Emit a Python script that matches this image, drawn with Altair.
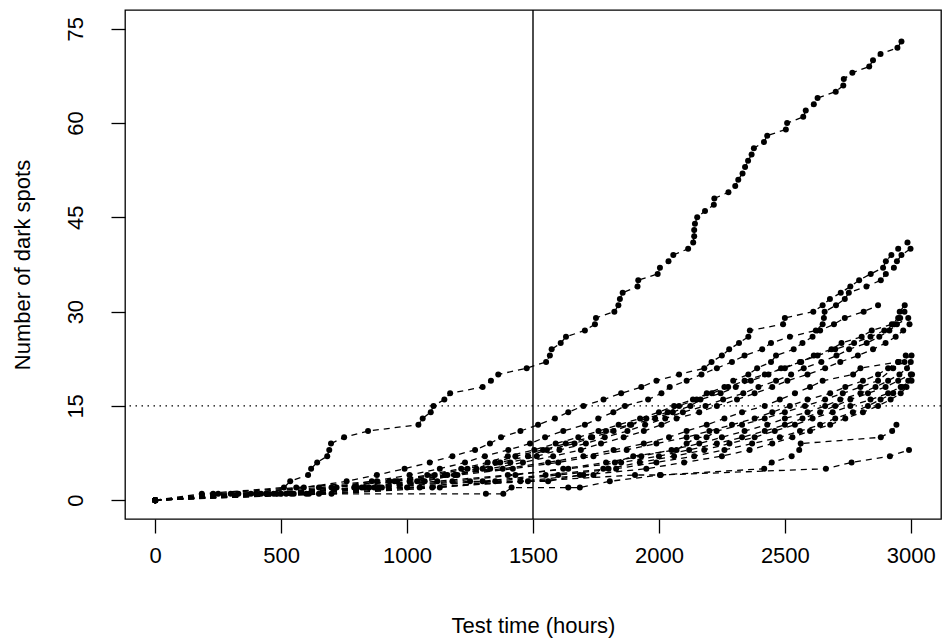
import altair as alt
import pandas as pd

# ---- data: inspection time (hours) and cumulative number of dark spots, per unit ----
u1_time = [0, 185, 511, 536, 607, 619, 643, 683, 691, 698, 750, 845, 1045, 1062, 1094, 1105, 1148, 1171,
           1300, 1333, 1362, 1475, 1552, 1567, 1574, 1610, 1631, 1706, 1746, 1750, 1823, 1839, 1845, 1856,
           1915, 1918, 1995, 2004, 2038, 2057, 2116, 2136, 2140, 2140, 2143, 2152, 2183, 2218, 2220, 2276,
           2303, 2315, 2332, 2342, 2354, 2368, 2377, 2417, 2430, 2504, 2509, 2573, 2583, 2615, 2630, 2702,
           2732, 2734, 2768, 2835, 2850, 2880, 2947, 2963]
u1_count = [0, 1, 2, 3, 4, 5, 6, 7, 8, 9, 10, 11, 12, 13, 14, 15, 16, 17, 18, 19, 20, 21, 22, 23, 24, 25,
            26, 27, 28, 29, 30, 31, 32, 33, 34, 35, 36, 37, 38, 39, 40, 41, 42, 43, 44, 45, 46, 47, 48, 49,
            50, 51, 52, 53, 54, 55, 56, 57, 58, 59, 60, 61, 62, 63, 64, 65, 66, 67, 68, 69, 70, 71, 72, 73]

u2_time = [0, 330, 590, 760, 880, 990, 1090, 1180, 1270, 1329, 1373, 1450, 1520, 1587, 1640, 1700, 1780,
           1850, 1930, 1990, 2080, 2180, 2209, 2250, 2279, 2318, 2355, 2361, 2493, 2500, 2613, 2650, 2679,
           2722, 2760, 2795, 2841, 2890, 2901, 2923, 2950, 2987]
u2_count = [0, 1, 2, 3, 4, 5, 6, 7, 8, 9, 10, 11, 12, 13, 14, 15, 16, 17, 18, 19, 20, 21, 22, 23, 24, 25,
            26, 27, 28, 29, 30, 31, 32, 33, 34, 35, 36, 37, 38, 39, 40, 41]

u3_time = [0, 470, 700, 860, 1010, 1130, 1230, 1309, 1402, 1488, 1548, 1620, 1706, 1759, 1819, 1865, 1957,
           2010, 2043, 2110, 2169, 2230, 2290, 2340, 2410, 2445, 2520, 2623, 2650, 2655, 2658, 2703, 2738,
           2754, 2824, 2881, 2901, 2933, 2945, 2963, 2999]
u3_count = [0, 1, 2, 3, 4, 5, 6, 7, 8, 9, 10, 11, 12, 13, 14, 15, 16, 17, 18, 19, 20, 21, 22, 23, 24, 25,
            26, 27, 28, 29, 30, 31, 32, 33, 34, 35, 36, 37, 38, 39, 40]

u4_time = [0, 540, 790, 960, 1110, 1240, 1350, 1430, 1540, 1630, 1730, 1790, 1885, 1950, 2035, 2080, 2150,
           2190, 2260, 2295, 2355, 2390, 2445, 2465, 2535, 2570, 2610, 2640, 2695, 2738, 2813, 2870]
u4_count = [0, 1, 2, 3, 4, 5, 6, 7, 8, 9, 10, 11, 12, 13, 14, 15, 16, 17, 18, 19, 20, 21, 22, 23, 24, 25,
            26, 27, 28, 29, 30, 31]

u5_time = [0, 610, 890, 1070, 1190, 1300, 1370, 1480, 1555, 1665, 1735, 1820, 1890, 1985, 2055, 2125, 2165,
           2245, 2305, 2365, 2435, 2485, 2565, 2615, 2685, 2725, 2805, 2845, 2925, 2950, 2956, 2976]
u5_count = [0, 1, 2, 3, 4, 5, 6, 7, 8, 9, 10, 11, 12, 13, 14, 15, 16, 17, 18, 19, 20, 21, 22, 23, 24, 25,
            26, 27, 28, 29, 30, 31]

u6_time = [0, 440, 830, 1010, 1160, 1275, 1410, 1515, 1605, 1710, 1785, 1875, 1945, 2025, 2095, 2185, 2255,
           2335, 2395, 2465, 2525, 2575, 2645, 2705, 2755, 2825, 2875, 2915, 2945, 2990]
u6_count = [0, 1, 2, 3, 4, 5, 6, 7, 8, 9, 10, 11, 12, 13, 14, 15, 16, 17, 18, 19, 20, 21, 22, 23, 24, 25,
            26, 27, 28, 29]

u7_time = [0, 230, 560, 880, 1150, 1380, 1560, 1700, 1820, 1940, 2040, 2110, 2190, 2260, 2330, 2420, 2480,
           2540, 2600, 2650, 2771, 2800, 2950, 3003]
u7_count = [0, 1, 2, 3, 4, 5, 6, 7, 8, 9, 10, 11, 12, 13, 14, 15, 16, 17, 18, 19, 20, 21, 22, 23]

u8_time = [0, 300, 650, 950, 1200, 1420, 1600, 1740, 1872, 1990, 2110, 2200, 2290, 2380, 2450, 2520, 2590,
           2680, 2740, 2810, 2870, 2910, 2950, 2980]
u8_count = [0, 1, 2, 3, 4, 5, 6, 7, 8, 9, 10, 11, 12, 13, 14, 15, 16, 17, 18, 19, 20, 21, 22, 23]

u9_time = [0, 480, 900, 1250, 1560, 1686, 1740, 1779, 1825, 1898, 2070, 2110, 2150, 2189, 2229, 2330, 2420,
           2500, 2580, 2660, 2730, 2800, 2870, 2930, 2975]
u9_count = [0, 1, 2, 3, 3, 4, 4, 5, 6, 7, 8, 9, 10, 10, 11, 12, 13, 14, 15, 16, 17, 18, 19, 21, 22]

u10_time = [0, 400, 820, 1120, 1400, 1640, 1850, 2000, 2120, 2230, 2330, 2420, 2500, 2570, 2640, 2700, 2760,
            2830, 2900, 2950, 3000]
u10_count = [0, 1, 2, 3, 4, 5, 6, 7, 8, 9, 10, 11, 12, 13, 14, 15, 16, 17, 18, 19, 20]

u11_time = [0, 550, 1000, 1300, 1550, 1800, 1924, 2060, 2180, 2280, 2380, 2460, 2540, 2610, 2690, 2760, 2840,
            2910, 2960, 3003]
u11_count = [0, 1, 2, 3, 4, 5, 6, 7, 8, 9, 10, 11, 12, 13, 14, 15, 16, 17, 18, 19]

u12_time = [0, 650, 1050, 1450, 1700, 1950, 2100, 2250, 2360, 2450, 2530, 2600, 2680, 2740, 2810, 2870, 2920,
            2960, 2983]
u12_count = [0, 1, 2, 3, 4, 5, 6, 7, 8, 9, 10, 11, 12, 13, 14, 15, 16, 17, 18]

u13_time = [0, 250, 520, 800, 1100, 1480, 1905, 2004, 2418, 2448, 2527, 2557, 2563, 2881, 2926, 2943]
u13_count = [0, 1, 1, 2, 2, 3, 4, 4, 5, 6, 7, 8, 9, 10, 11, 12]

u14_time = [0, 600, 1313, 1382, 1415, 1640, 1686, 1805, 2007, 2663, 2765, 2917, 2993]
u14_count = [0, 1, 1, 1, 2, 2, 2, 3, 4, 5, 6, 7, 8]

u15_time = [0, 380, 720, 930, 1080, 1215, 1320, 1400, 1505, 1590, 1680, 1760, 1840, 1925, 2000, 2060, 2135,
            2210, 2275, 2340, 2420, 2500, 2560, 2630, 2700, 2775, 2840, 2895, 2935, 2958, 2975]
u15_count = [0, 1, 2, 3, 4, 5, 6, 7, 8, 9, 10, 11, 12, 13, 14, 15, 16, 17, 18, 19, 20, 21, 22, 23, 24, 25,
             26, 27, 28, 29, 30]

u16_time = [0, 500, 850, 1040, 1190, 1330, 1460, 1580, 1690, 1770, 1860, 1940, 2010, 2070, 2160, 2230, 2310,
            2380, 2450, 2510, 2590, 2660, 2720, 2790, 2850, 2900, 2940, 2970, 2995]
u16_count = [0, 1, 2, 3, 4, 5, 6, 7, 8, 9, 10, 11, 12, 13, 14, 15, 16, 17, 18, 19, 20, 21, 22, 23, 24, 25,
             26, 27, 28]

u17_time = [0, 420, 870, 1180, 1430, 1620, 1790, 1930, 2050, 2160, 2250, 2340, 2430, 2500, 2590, 2660, 2720,
            2800, 2860, 2910, 2955, 2985, 3000]
u17_count = [0, 1, 2, 3, 4, 5, 6, 7, 8, 9, 10, 11, 12, 13, 14, 15, 16, 17, 18, 19, 20, 21, 22]

u18_time = [0, 700, 1130, 1350, 1600, 1830, 1990, 2140, 2260, 2370, 2480, 2560, 2640, 2700, 2770, 2830, 2880,
            2930, 2965, 2990, 3005]
u18_count = [0, 1, 2, 3, 4, 5, 6, 7, 8, 9, 10, 11, 12, 13, 14, 15, 16, 17, 18, 19, 20]

x_ticks = [0, 500, 1000, 1500, 2000, 2500, 3000]
y_ticks = [0, 15, 30, 45, 60, 75]
ref_time = [1500]
ref_spots = [15]

units = [
    ("1", u1_time, u1_count), ("2", u2_time, u2_count), ("3", u3_time, u3_count),
    ("4", u4_time, u4_count), ("5", u5_time, u5_count), ("6", u6_time, u6_count),
    ("7", u7_time, u7_count), ("8", u8_time, u8_count), ("9", u9_time, u9_count),
    ("10", u10_time, u10_count), ("11", u11_time, u11_count), ("12", u12_time, u12_count),
    ("13", u13_time, u13_count), ("14", u14_time, u14_count), ("15", u15_time, u15_count),
    ("16", u16_time, u16_count), ("17", u17_time, u17_count), ("18", u18_time, u18_count),
]
rows = []
for name, ts, cs in units:
    for i, (t, c) in enumerate(zip(ts, cs)):
        rows.append({"unit": name, "time": t, "spots": c, "seq": i})
df = pd.DataFrame(rows)

FONT = "Liberation Sans"
FS = 22

xscale = alt.Scale(domain=[-120, 3120], nice=False, zero=False)
yscale = alt.Scale(domain=[-3, 78], nice=False, zero=False)

xaxis = alt.Axis(values=x_ticks, format="d", title="Test time (hours)", grid=False, domain=False,
                 tickSize=14, tickColor="black", tickWidth=1.3,
                 labelFont=FONT, labelFontSize=FS, labelColor="black", labelPadding=12,
                 labelFlush=False, labelOverlap=False,
                 titleFont=FONT, titleFontSize=FS, titleFontWeight="normal", titleColor="black",
                 titleY=106, titleBaseline="middle")
yaxis = alt.Axis(values=y_ticks, format="d", title="Number of dark spots", grid=False, domain=False,
                 tickSize=14, tickColor="black", tickWidth=1.3,
                 labelFont=FONT, labelFontSize=FS, labelColor="black", labelPadding=36,
                 labelAngle=270, labelAlign="center", labelBaseline="middle",
                 labelFlush=False, labelOverlap=False,
                 titleFont=FONT, titleFontSize=FS, titleFontWeight="normal", titleColor="black",
                 titleAngle=270, titleX=-103, titleY=254.5, titleAlign="center", titleBaseline="middle")

X = alt.X("time:Q", scale=xscale, axis=xaxis)
Y = alt.Y("spots:Q", scale=yscale, axis=yaxis)

lines = alt.Chart(df).mark_line(color="black", strokeWidth=1.3, strokeDash=[6, 5]).encode(
    x=X, y=Y, detail="unit:N", order="seq:Q")
points = alt.Chart(df).mark_circle(color="black", size=36, opacity=1).encode(x=X, y=Y)

vline = alt.Chart(pd.DataFrame({"time": ref_time})).mark_rule(color="black", strokeWidth=1.4).encode(x=X)
hline = alt.Chart(pd.DataFrame({"spots": ref_spots})).mark_rule(
    color="black", strokeWidth=1.3, strokeDash=[1.5, 4.5]).encode(y=Y)

chart = alt.layer(lines, points, vline, hline).properties(
    width=816, height=509,
    autosize=alt.AutoSizeParams(type="none"),
    padding={"left": 125, "top": 10, "right": 1, "bottom": 120},
    background="white",
).configure_view(stroke="black", strokeWidth=1.3)

chart.save("out.html", embed_options={"renderer": "svg", "actions": False})
